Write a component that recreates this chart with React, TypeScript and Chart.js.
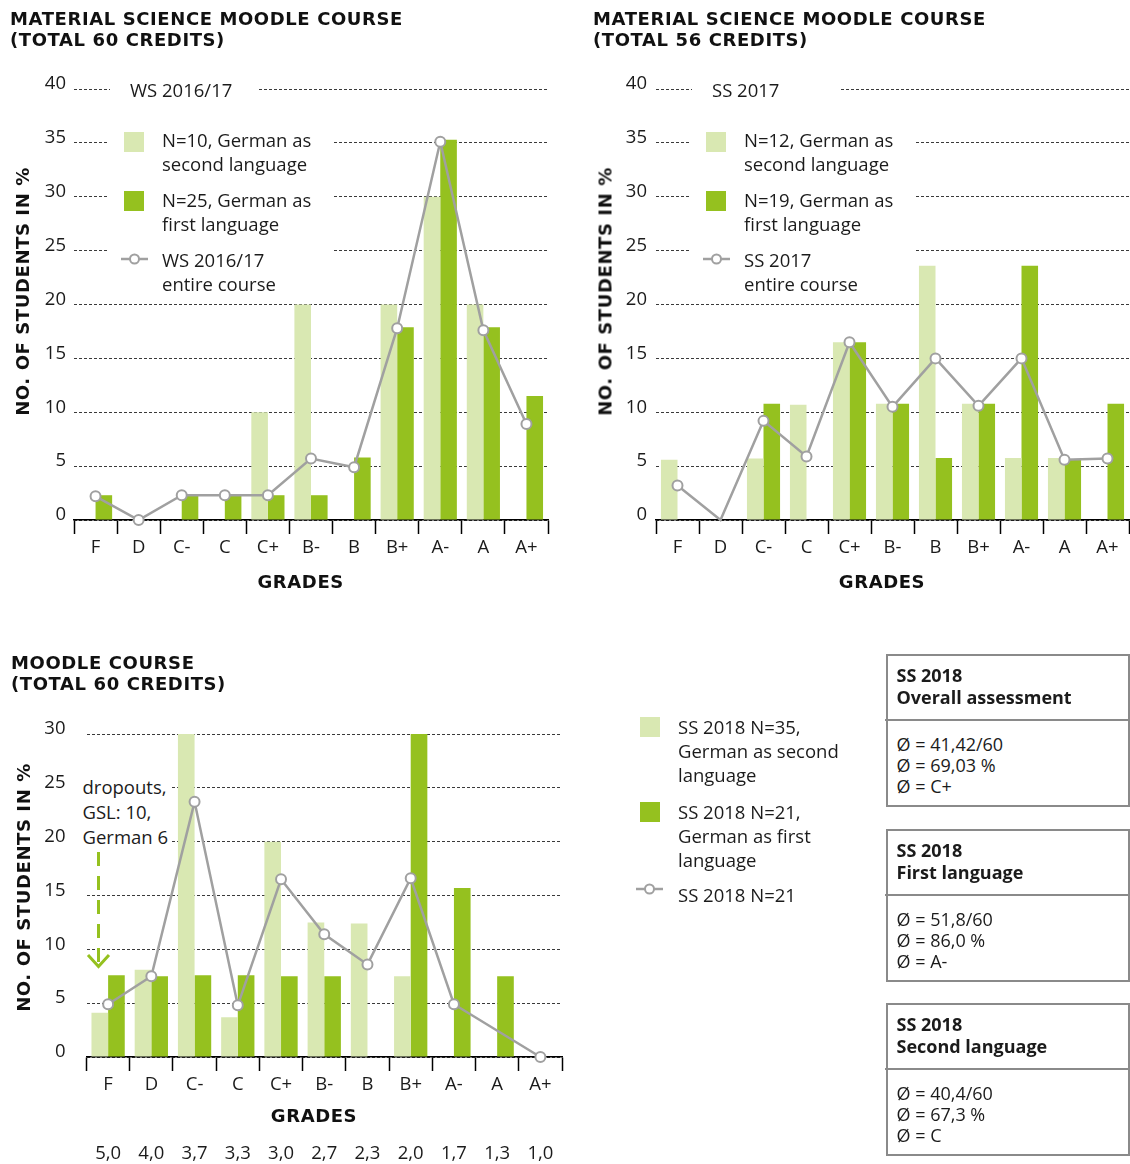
import React, { useEffect, useRef } from 'react';
import { Chart, registerables } from 'chart.js';

Chart.register(...registerables);

// ---------- data ----------
const grades = ['F', 'D', 'C-', 'C', 'C+', 'B-', 'B', 'B+', 'A-', 'A', 'A+'];
const gradeNumbers = ['5,0', '4,0', '3,7', '3,3', '3,0', '2,7', '2,3', '2,0', '1,7', '1,3', '1,0'];

// WS 2016/17
const ws1617Second = [0, 0, 0, 0, 10, 20, 0, 20, 30, 20, 0];
const ws1617First = [2.3, 0, 2.3, 2.3, 2.3, 2.3, 5.8, 17.9, 35.3, 17.9, 11.5];
const ws1617Entire = [2.2, 0, 2.3, 2.3, 2.3, 5.7, 4.9, 17.8, 35.1, 17.6, 8.9];

// SS 2017
const ss17Second = [5.6, 0, 5.7, 10.7, 16.5, 10.8, 23.6, 10.8, 5.75, 5.75, 0];
const ss17First = [0, 0, 10.8, 0, 16.5, 10.8, 5.75, 10.8, 23.6, 5.6, 10.8];
const ss17Entire = [3.2, 0, 9.2, 5.9, 16.5, 10.5, 15, 10.6, 15, 5.6, 5.7];

// SS 2018
const ss18Second = [4.1, 8.1, 30, 3.7, 20, 12.5, 12.4, 7.5, 0, 0, 0];
const ss18First = [7.6, 7.5, 7.6, 7.6, 7.5, 7.5, 0, 30, 15.7, 7.5, 0];
const ss18N21: (number | null)[] = [4.9, 7.5, 23.7, 4.8, 16.5, 11.4, 8.6, 16.6, 4.9, null, 0];

// ---------- styles ----------
const BODY = "'Open Sans', 'Noto Sans', sans-serif";
const HEAVY = "'DejaVu Sans', sans-serif";
const INK = '#1b1b1b';
const LIGHT_GREEN = '#d9e8b2';
const DARK_GREEN = '#95c11f';
const LINE_GREY = '#a0a0a0';
const BOX_GREY = '#8a8a8a';

interface Spec {
  second: number[];
  first: number[];
  line: (number | null)[];
  max: number;
  yWidth: number;
  padTop: number;
  padRight: number;
  xHeight: number;
  yPad: number;
  noMarkerAt?: number[];
  extra?: string[];
  extraHeight?: number;
}

function makeConfig(s: Spec): any {
  const tickFont = { family: BODY, size: 18.5 };
  const noMarker = s.noMarkerAt || [];
  const scales: any = {
    x: {
      type: 'category',
      position: 'bottom',
      weight: 0,
      offset: true,
      ticks: { padding: 3, color: INK, font: tickFont, maxRotation: 0, autoSkip: false },
      grid: {
        offset: true,
        drawOnChartArea: false,
        drawTicks: true,
        tickLength: 14,
        tickColor: '#000',
        tickWidth: 1.5,
      },
      border: { display: true, color: '#000', width: 1.5 },
      afterFit: (sc: any) => {
        sc.height = s.xHeight;
      },
    },
    y: {
      min: 0,
      max: s.max,
      ticks: { stepSize: 5, padding: s.yPad, labelOffset: -5, color: INK, font: tickFont },
      grid: { drawTicks: false, color: '#3a3a3a', lineWidth: 1 },
      border: { display: false, dash: [3, 2] },
      afterFit: (sc: any) => {
        sc.width = s.yWidth;
      },
    },
  };
  if (s.extra) {
    scales.x2 = {
      type: 'category',
      labels: s.extra,
      position: 'bottom',
      weight: 1,
      offset: true,
      ticks: { padding: 2, color: INK, font: tickFont, maxRotation: 0, autoSkip: false },
      grid: {
        display: true,
        offset: false,
        drawOnChartArea: false,
        drawTicks: true,
        tickLength: 44,
        tickColor: 'rgba(0,0,0,0)',
        tickWidth: 1,
      },
      border: { display: false },
      afterFit: (sc: any) => {
        sc.height = s.extraHeight;
      },
    };
  }
  return {
    type: 'bar',
    data: {
      labels: grades,
      datasets: [
        {
          type: 'line',
          data: s.line,
          borderColor: LINE_GREY,
          borderWidth: 2.5,
          pointRadius: grades.map((_, i) => (noMarker.includes(i) ? 0 : 5)),
          pointBorderWidth: 2,
          pointBackgroundColor: '#ffffff',
          pointBorderColor: LINE_GREY,
          spanGaps: true,
          clip: false,
          order: 0,
          xAxisID: 'x',
          yAxisID: 'y',
        },
        {
          type: 'bar',
          data: s.second,
          backgroundColor: LIGHT_GREEN,
          borderWidth: 0,
          categoryPercentage: 0.77,
          barPercentage: 1,
          order: 1,
          xAxisID: 'x',
          yAxisID: 'y',
        },
        {
          type: 'bar',
          data: s.first,
          backgroundColor: DARK_GREEN,
          borderWidth: 0,
          categoryPercentage: 0.77,
          barPercentage: 1,
          order: 1,
          xAxisID: 'x',
          yAxisID: 'y',
        },
      ],
    },
    options: {
      responsive: false,
      animation: false,
      layout: { padding: { top: s.padTop, right: s.padRight, left: 0, bottom: 0 } },
      plugins: { legend: { display: false }, tooltip: { enabled: false } },
      scales,
    },
  };
}

function ChartCanvas(props: { spec: Spec; left: number; top: number; width: number; height: number }) {
  const ref = useRef<HTMLCanvasElement>(null);
  useEffect(() => {
    const chart = new Chart(ref.current as HTMLCanvasElement, makeConfig(props.spec));
    return () => chart.destroy();
  }, []);
  return (
    <canvas
      ref={ref}
      width={props.width}
      height={props.height}
      style={{ position: 'absolute', left: props.left, top: props.top, width: props.width, height: props.height }}
    />
  );
}

const heavyStyle: React.CSSProperties = {
  fontFamily: HEAVY,
  fontWeight: 700,
  fontSize: 18,
  letterSpacing: '0.6px',
  color: '#111',
  lineHeight: '21px',
  whiteSpace: 'nowrap',
};

const bodyStyle: React.CSSProperties = {
  fontFamily: BODY,
  fontSize: 18.5,
  color: INK,
  whiteSpace: 'nowrap',
};

function Abs(props: { left: number; top: number; style?: React.CSSProperties; children?: React.ReactNode }) {
  return (
    <div style={{ position: 'absolute', left: props.left, top: props.top, ...props.style }}>{props.children}</div>
  );
}

function YTitle(props: { cx: number; cy: number }) {
  return (
    <div
      style={{
        ...heavyStyle,
        position: 'absolute',
        left: props.cx - 150,
        top: props.cy - 10.5,
        width: 300,
        textAlign: 'center',
        transform: 'rotate(-90deg)',
      }}
    >
      NO. OF STUDENTS IN %
    </div>
  );
}

function XTitle(props: { cx: number; cy: number }) {
  return (
    <div
      style={{
        ...heavyStyle,
        position: 'absolute',
        left: props.cx - 100,
        top: props.cy - 10.5,
        width: 200,
        textAlign: 'center',
      }}
    >
      GRADES
    </div>
  );
}

function LineIcon(props: { left: number; top: number }) {
  return (
    <svg
      width={27}
      height={18}
      style={{ position: 'absolute', left: props.left, top: props.top }}
      viewBox="0 0 27 18"
    >
      <line x1={0} y1={9} x2={27} y2={9} stroke={LINE_GREY} strokeWidth={2.5} />
      <circle cx={13.5} cy={9} r={4.5} fill="#fff" stroke={LINE_GREY} strokeWidth={2} />
    </svg>
  );
}

function Swatch(props: { left: number; top: number; color: string }) {
  return (
    <div style={{ position: 'absolute', left: props.left, top: props.top, width: 20, height: 20, background: props.color }} />
  );
}

function TopLegend(props: { dx: number; period: string; second: string; first: string }) {
  const dx = props.dx;
  const lines: React.CSSProperties = { ...bodyStyle, lineHeight: '24px' };
  return (
    <>
      <Abs left={110 + dx} top={79} style={{ width: 148, height: 22, background: '#fff' }} />
      <Abs left={130 + dx} top={79} style={{ ...bodyStyle, lineHeight: '22px' }}>
        {props.period}
      </Abs>
      <Abs left={107 + dx} top={124} style={{ width: 226, height: 172, background: '#fff' }} />
      <Swatch left={124 + dx} top={132} color={LIGHT_GREEN} />
      <Abs left={162 + dx} top={128} style={lines}>
        {props.second}
        <br />
        second language
      </Abs>
      <Swatch left={124 + dx} top={191} color={DARK_GREEN} />
      <Abs left={162 + dx} top={188} style={lines}>
        {props.first}
        <br />
        first language
      </Abs>
      <LineIcon left={121 + dx} top={250} />
      <Abs left={162 + dx} top={248} style={lines}>
        {props.period}
        <br />
        entire course
      </Abs>
    </>
  );
}

function StatBox(props: { top: number; head: string; values: string[] }) {
  return (
    <div
      style={{
        position: 'absolute',
        left: 886,
        top: props.top,
        width: 244,
        height: 153,
        border: `2px solid ${BOX_GREY}`,
        boxSizing: 'border-box',
        background: '#fff',
      }}
    >
      <div style={{ position: 'absolute', left: -3, right: 0, top: 63, height: 2, background: BOX_GREY }} />
      <div
        style={{
          position: 'absolute',
          left: 8.5,
          top: 9.2,
          fontFamily: BODY,
          fontWeight: 700,
          fontSize: 18,
          lineHeight: '21.5px',
          color: INK,
          whiteSpace: 'nowrap',
        }}
      >
        SS 2018
        <br />
        {props.head}
      </div>
      <div
        style={{
          position: 'absolute',
          left: 8.5,
          top: 77.8,
          fontFamily: BODY,
          fontSize: 18,
          lineHeight: '21.3px',
          color: INK,
          whiteSpace: 'nowrap',
        }}
      >
        {props.values.map((v, i) => (
          <div key={i}>{v}</div>
        ))}
      </div>
    </div>
  );
}

const spec1: Spec = {
  second: ws1617Second,
  first: ws1617First,
  line: ws1617Entire,
  max: 40,
  yWidth: 74,
  padTop: 89,
  padRight: 17,
  xHeight: 80,
  yPad: 8,
};

const spec2: Spec = {
  second: ss17Second,
  first: ss17First,
  line: ss17Entire,
  max: 40,
  yWidth: 74,
  padTop: 89,
  padRight: 18,
  xHeight: 80,
  yPad: 9,
  noMarkerAt: [1],
};

const spec3: Spec = {
  second: ss18Second,
  first: ss18First,
  line: ss18N21,
  max: 30,
  yWidth: 86.5,
  padTop: 94,
  padRight: 18,
  xHeight: 40,
  yPad: 21,
  extra: gradeNumbers,
  extraHeight: 67,
};

export default function App() {
  const legendLines: React.CSSProperties = { ...bodyStyle, lineHeight: '24.3px' };
  return (
    <div
      style={{
        position: 'absolute',
        left: 0,
        top: 0,
        width: 1130,
        height: 1164,
        background: '#fff',
        overflow: 'hidden',
      }}
    >
      <ChartCanvas spec={spec1} left={0} top={0} width={565} height={600} />
      <ChartCanvas spec={spec2} left={582} top={0} width={565} height={600} />
      <ChartCanvas spec={spec3} left={0} top={640} width={580} height={524} />

      {/* titles */}
      <Abs left={10} top={8} style={heavyStyle}>
        MATERIAL SCIENCE MOODLE COURSE
        <br />
        (TOTAL 60 CREDITS)
      </Abs>
      <Abs left={593} top={8} style={heavyStyle}>
        MATERIAL SCIENCE MOODLE COURSE
        <br />
        (TOTAL 56 CREDITS)
      </Abs>
      <Abs left={11} top={652} style={heavyStyle}>
        MOODLE COURSE
        <br />
        (TOTAL 60 CREDITS)
      </Abs>

      <YTitle cx={21.5} cy={291} />
      <YTitle cx={605} cy={291} />
      <YTitle cx={22.5} cy={887} />
      <XTitle cx={300.7} cy={581.7} />
      <XTitle cx={882} cy={581.7} />
      <XTitle cx={314} cy={1115.7} />

      <TopLegend dx={0} period="WS 2016/17" second="N=10, German as" first="N=25, German as" />
      <TopLegend dx={582} period="SS 2017" second="N=12, German as" first="N=19, German as" />

      {/* dropout annotation */}
      <Abs left={80} top={774} style={{ width: 92, height: 75, background: '#fff' }} />
      <Abs left={82.5} top={774} style={{ ...bodyStyle, lineHeight: '25px' }}>
        dropouts,
        <br />
        GSL: 10,
        <br />
        German 6
      </Abs>
      <svg
        width={1130}
        height={1164}
        style={{ position: 'absolute', left: 0, top: 0, pointerEvents: 'none' }}
      >
        <line x1={98.5} y1={852} x2={98.5} y2={964} stroke={DARK_GREEN} strokeWidth={3} strokeDasharray="14 10" />
        <polyline points="88,955 98.5,966.5 109,955" fill="none" stroke={DARK_GREEN} strokeWidth={3} />
      </svg>

      {/* bottom legend */}
      <Swatch left={640} top={717} color={LIGHT_GREEN} />
      <Abs left={678} top={714.5} style={legendLines}>
        SS 2018 N=35,
        <br />
        German as second
        <br />
        language
      </Abs>
      <Swatch left={640} top={802} color={DARK_GREEN} />
      <Abs left={678} top={799.5} style={legendLines}>
        SS 2018 N=21,
        <br />
        German as first
        <br />
        language
      </Abs>
      <LineIcon left={636} top={880} />
      <Abs left={678} top={883} style={legendLines}>
        SS 2018 N=21
      </Abs>

      {/* stat boxes */}
      <StatBox top={654} head="Overall assessment" values={['Ø = 41,42/60', 'Ø = 69,03 %', 'Ø = C+']} />
      <StatBox top={829} head="First language" values={['Ø = 51,8/60', 'Ø = 86,0 %', 'Ø = A-']} />
      <StatBox top={1003} head="Second language" values={['Ø = 40,4/60', 'Ø = 67,3 %', 'Ø = C']} />
    </div>
  );
}
